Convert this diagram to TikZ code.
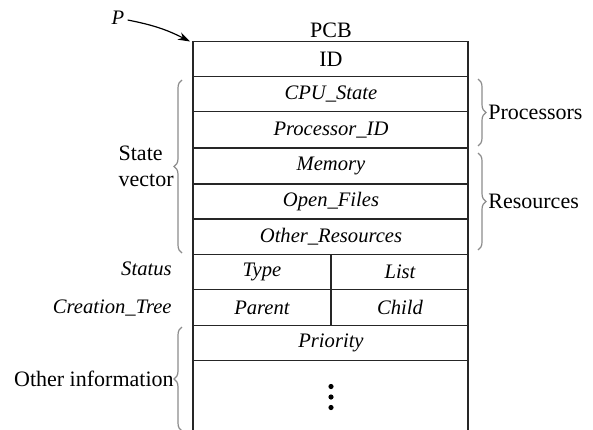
\documentclass[tikz,border=0pt]{standalone}
\usepackage{fontspec}
\setmainfont{Liberation Serif}
\usetikzlibrary{decorations.pathreplacing,arrows.meta}
\begin{document}
\begin{tikzpicture}[x=0.5pt,y=-0.5pt,
  cell/.style={draw=black!85,line width=0.6pt},
  lbl/.style={inner sep=0pt,font=\fontsize{11}{13}\selectfont},
  itl/.style={inner sep=0pt,font=\fontsize{10.3}{12}\selectfont\itshape},
  dotn/.style={circle,fill=black,inner sep=0pt,minimum size=2.6pt},
  brc/.style={draw=black!45,line width=0.6pt,decorate,decoration={brace,amplitude=4pt}}]
\clip (0,0) rectangle (593,429);
% rows
\draw[cell] (193,41.7) rectangle (468,76.7);
\draw[cell] (193,76.7) rectangle (468,111.7);
\draw[cell] (193,111.7) rectangle (468,148);
\draw[cell] (193,148) rectangle (468,184);
\draw[cell] (193,184) rectangle (468,219);
\draw[cell] (193,219) rectangle (468,254.3);
\draw[cell] (193,254.3) rectangle (331,289.3);
\draw[cell] (331,254.3) rectangle (468,289.3);
\draw[cell] (193,289.3) rectangle (331,325.3);
\draw[cell] (331,289.3) rectangle (468,325.3);
\draw[cell] (193,325.3) rectangle (468,360.7);
\draw[cell] (193,360.7) -- (193,440) (468,360.7) -- (468,440);
% texts
\node[lbl] (pcb) at (331,30) {PCB};
\node[lbl] (id) at (331,59.5) {ID};
\node[itl] (cpu) at (331,94.5) {CPU\_State};
\node[itl] (pid) at (331,130) {Processor\_ID};
\node[itl] (mem) at (331,166) {Memory};
\node[itl] (of) at (331,201.5) {Open\_Files};
\node[itl] (orr) at (331,237) {Other\_Resources};
\node[itl] (type) at (262,272) {Type};
\node[itl] (list) at (400,272) {List};
\node[itl] (par) at (262,307.5) {Parent};
\node[itl] (chi) at (400,307.5) {Child};
\node[itl] (pri) at (331,343) {Priority};
\node[dotn] (d1) at (331,386.5) {};
\node[dotn] (d2) at (331,397) {};
\node[dotn] (d3) at (331,407.5) {};
% left labels
\node[itl] (p) at (118,18) {P};
\node[lbl,anchor=east,align=left] (sv) at (174,166) {State\\vector};
\node[itl,anchor=east] (st) at (172,269) {Status};
\node[itl,anchor=east] (ct) at (172,308) {Creation\_Tree};
\node[lbl,anchor=east] (oi) at (174,379) {Other information};
\node[lbl,anchor=west] (proc) at (488,112) {Processors};
\node[lbl,anchor=west] (res) at (488,201) {Resources};
% braces
\coordinate (b1s) at (182,253); \coordinate (b1e) at (182,80);
\draw[brc] (b1s) -- (b1e);
\coordinate (b2s) at (182,431); \coordinate (b2e) at (182,327);
\draw[brc] (b2s) -- (b2e);
\coordinate (b3s) at (478,79); \coordinate (b3e) at (478,146);
\draw[brc] (b3s) -- (b3e);
\coordinate (b4s) at (478,153); \coordinate (b4e) at (478,250);
\draw[brc] (b4s) -- (b4e);
% pointer
\coordinate (top) at (190,41.5);
\draw[-{Stealth[length=6pt,width=4pt]},line width=0.6pt] (p.east) ++(3,2) to[bend left=8] (top);
\end{tikzpicture}
\end{document}
